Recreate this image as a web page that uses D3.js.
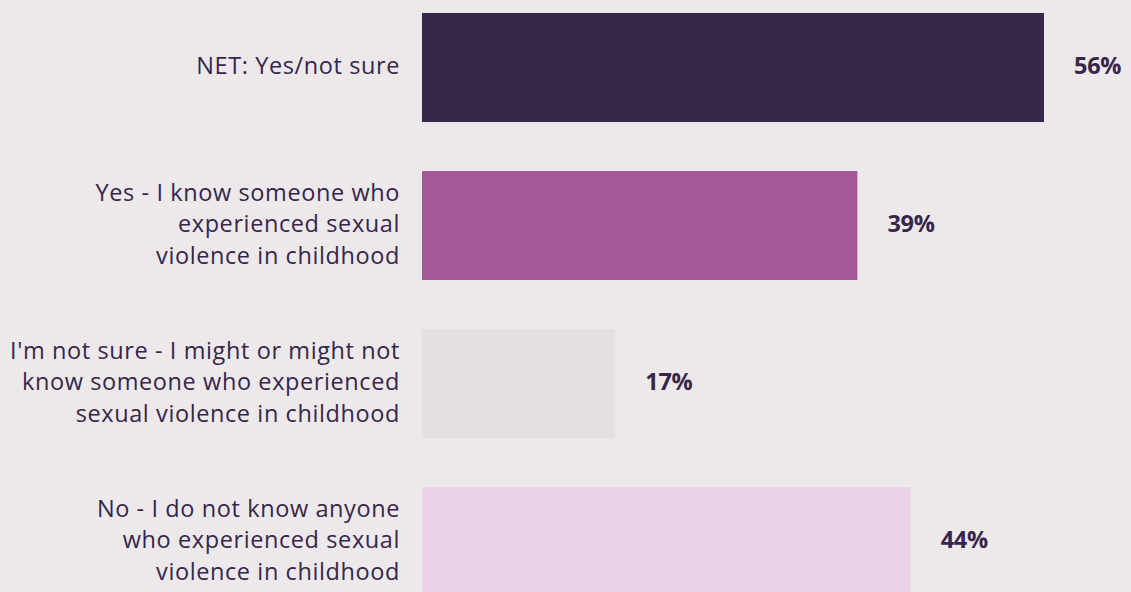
<!DOCTYPE html>
<html><head><meta charset="utf-8">
<script src="https://cdn.jsdelivr.net/npm/d3@7"></script>
<style>
html,body{margin:0;padding:0;background:#ede9ea;}
svg{display:block;}
</style></head>
<body>
<svg id="c" width="1131" height="592"></svg>
<script>
const categories = [
  "NET: Yes/not sure",
  "Yes - I know someone who experienced sexual violence in childhood",
  "I'm not sure - I might or might not know someone who experienced sexual violence in childhood",
  "No - I do not know anyone who experienced sexual violence in childhood"
];
const labelLines = [
  ["NET: Yes/not sure"],
  ["Yes - I know someone who", "experienced sexual", "violence in childhood"],
  ["I'm not sure - I might or might not", "know someone who experienced", "sexual violence in childhood"],
  ["No - I do not know anyone", "who experienced sexual", "violence in childhood"]
];
const values = [56, 39.2, 17.4, 44];
const colors = ["#36264a", "#a65796", "#e5e0e0", "#ead3e8"];

const svg = d3.select("#c");
const font = "'Open Sans', 'Noto Sans', sans-serif";
const x = d3.scaleLinear().domain([0, 56]).range([422, 1044]);
const y = d3.scaleBand().domain(categories).range([13, 596]).paddingInner(0.31).paddingOuter(0);

svg.append("rect").attr("width",1131).attr("height",592).attr("fill","#ede9ea");

const g = svg.selectAll("g.row").data(categories).enter().append("g").attr("class","row");
g.append("rect")
  .attr("x", x(0))
  .attr("y", d => y(d))
  .attr("width", (d,i) => x(values[i]) - x(0))
  .attr("height", y.bandwidth())
  .attr("fill", (d,i) => colors[i]);

g.append("text")
  .attr("x", (d,i) => x(values[i]) + 30)
  .attr("y", d => y(d) + y.bandwidth()/2 + 6.8)
  .attr("font-family", font)
  .attr("font-weight", 700)
  .attr("font-size", 23.5)
  .attr("letter-spacing", -0.3)
  .attr("fill", "#37264a")
  .text((d,i) => Math.round(values[i]) + "%");

const lh = 31.7;
g.each(function(d,i){
  const lines = labelLines[i];
  const cy = y(d) + y.bandwidth()/2;
  const t = d3.select(this).append("text")
    .attr("text-anchor","end")
    .attr("font-family", font)
    .attr("font-size", 23.5)
    .attr("letter-spacing", 0.6)
    .attr("fill", "#37264a");
  lines.forEach((ln, k) => {
    t.append("tspan")
      .attr("x", 400)
      .attr("y", cy + 6.8 + (k - (lines.length-1)/2) * lh)
      .text(ln);
  });
});
</script>
</body></html>
